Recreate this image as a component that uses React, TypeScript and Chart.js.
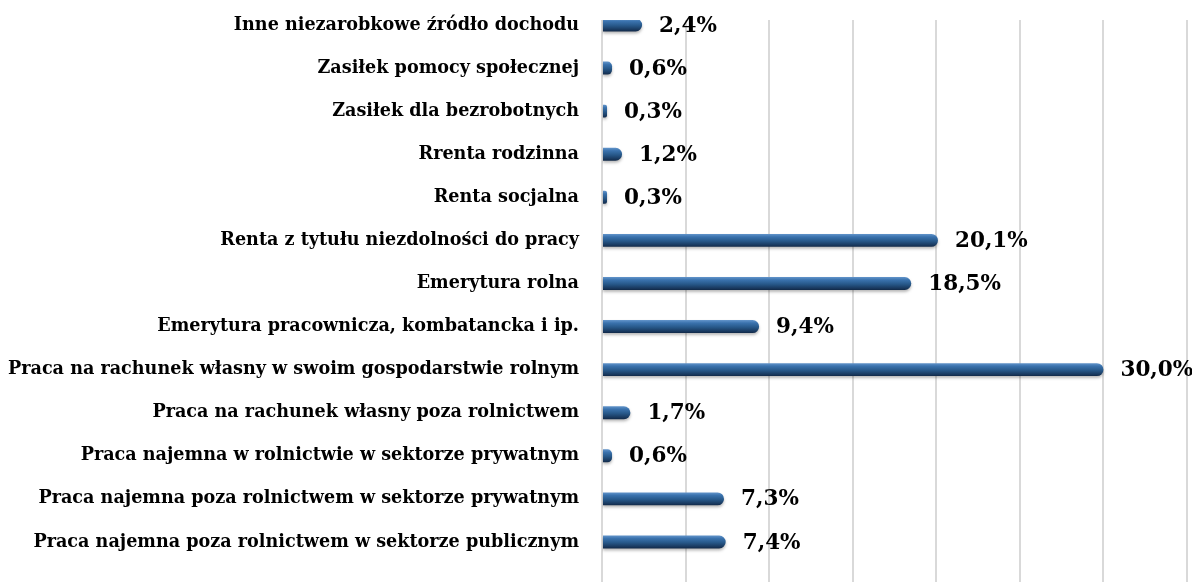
import React, { useEffect, useRef } from 'react';
import { Chart, registerables } from 'chart.js';

Chart.register(...registerables);

// Categories listed bottom-to-top (as in the source spreadsheet)
const categories: string[] = [
  'Praca najemna poza rolnictwem w sektorze publicznym',
  'Praca najemna poza rolnictwem w sektorze prywatnym',
  'Praca najemna w rolnictwie w sektorze prywatnym',
  'Praca na rachunek własny poza rolnictwem',
  'Praca na rachunek własny w swoim gospodarstwie rolnym',
  'Emerytura pracownicza, kombatancka i ip.',
  'Emerytura rolna',
  'Renta z tytułu niezdolności do pracy',
  'Renta socjalna',
  'Rrenta rodzinna',
  'Zasiłek dla bezrobotnych',
  'Zasiłek pomocy społecznej',
  'Inne niezarobkowe źródło dochodu',
];

const values: number[] = [7.4, 7.3, 0.6, 1.7, 30.0, 9.4, 18.5, 20.1, 0.3, 1.2, 0.3, 0.6, 2.4];

const valueLabels: string[] = values.map((v) => v.toFixed(1).replace('.', ',') + '%');

const xMin = 0;
const xMax = 35;
const xStep = 5;

// index-axis bounds (category indices)
const yMin = -1.533;
const yMax = 12.116;

const LABEL_FONT = '"DejaVu Serif"';

const valueLabelPlugin = {
  id: 'valueLabels',
  afterDatasetsDraw(chart: any) {
    const ctx = chart.ctx;
    const meta = chart.getDatasetMeta(0);
    ctx.save();
    ctx.font = `bold 21.5px ${LABEL_FONT}`;
    ctx.fillStyle = '#000000';
    ctx.textBaseline = 'middle';
    ctx.textAlign = 'left';
    meta.data.forEach((bar: any, i: number) => {
      ctx.fillText(valueLabels[i], bar.x + 17, bar.y + 1);
    });
    ctx.restore();
  },
};

const shadowPlugin = {
  id: 'barShadow',
  beforeDatasetDraw(chart: any) {
    const ctx = chart.ctx;
    ctx.save();
    ctx.shadowColor = 'rgba(0,0,0,0.28)';
    ctx.shadowBlur = 3;
    ctx.shadowOffsetY = 2;
  },
  afterDatasetDraw(chart: any) {
    chart.ctx.restore();
  },
};

export default function App() {
  const canvasRef = useRef<HTMLCanvasElement | null>(null);

  useEffect(() => {
    document.body.style.overflow = 'hidden';
    if (!canvasRef.current) return;
    const chart = new Chart(canvasRef.current, {
      type: 'bar',
      data: {
        datasets: [
          {
            data: categories.map((_, i) => ({ x: values[i], y: i })) as any,
            backgroundColor: (c: any) => {
              const ch = c.chart;
              const ys = ch.scales && ch.scales.y;
              if (!ys || c.dataIndex === undefined) return '#285d94';
              const yc = ys.getPixelForValue(c.dataIndex);
              if (!isFinite(yc)) return '#285d94';
              const g = ch.ctx.createLinearGradient(0, yc - 7, 0, yc + 7);
              g.addColorStop(0, '#6a9bd0');
              g.addColorStop(0.25, '#3a72ad');
              g.addColorStop(0.55, '#275889');
              g.addColorStop(0.85, '#18375c');
              g.addColorStop(1, '#0f2440');
              return g;
            },
            borderWidth: 0,
            borderRadius: 7,
            borderSkipped: 'start',
            barPercentage: 0.3,
            categoryPercentage: 1,
          },
        ],
      },
      options: {
        indexAxis: 'y',
        responsive: false,
        animation: false,
        layout: { padding: { top: 12, right: 13, left: 0, bottom: 0 } },
        plugins: {
          legend: { display: false },
          tooltip: { enabled: false },
        },
        scales: {
          x: {
            type: 'linear',
            min: xMin,
            max: xMax,
            ticks: { display: false, stepSize: xStep },
            grid: { color: '#d9d9d9', lineWidth: 2, drawTicks: false },
            border: { display: false },
          },
          y: {
            type: 'linear',
            bounds: 'data',
            offset: false,
            min: yMin,
            max: yMax,
            afterBuildTicks: (scale: any) => {
              scale.ticks = categories.map((_, i) => ({ value: i }));
            },
            afterFit: (scale: any) => {
              scale.width = 594;
              scale.paddingTop = 0;
              scale.paddingBottom = 0;
            },
            ticks: {
              autoSkip: false,
              padding: 15,
              color: '#000000',
              font: { family: LABEL_FONT, weight: 'bold', size: 17.6 },
              callback: (v: any) => categories[v as number] ?? '',
            },
            grid: { display: false },
            border: { display: false },
          },
        },
      },
      plugins: [shadowPlugin, valueLabelPlugin],
    });
    return () => chart.destroy();
  }, []);

  return (
    <div style={{ width: 1192, height: 600, overflow: 'hidden', marginRight: -8 }}>
      <canvas ref={canvasRef} width={1192} height={600} style={{ display: 'block' }} />
    </div>
  );
}
